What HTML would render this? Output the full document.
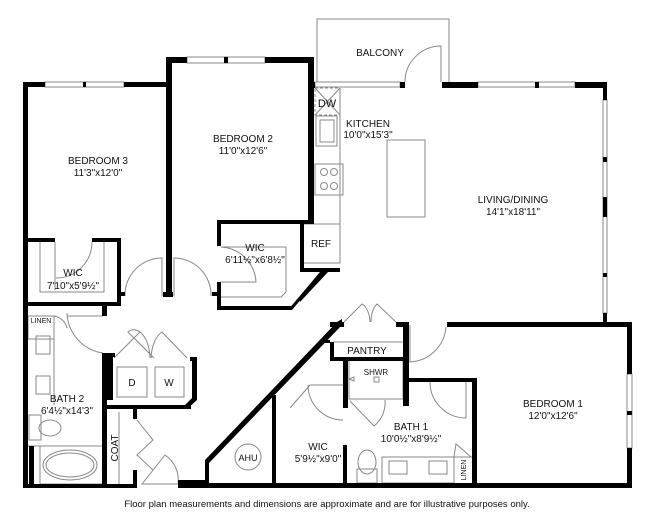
<!DOCTYPE html>
<html><head><style>
html,body{margin:0;padding:0;background:#fff;}
svg{display:block;}
text{font-family:"Liberation Sans",Arial,sans-serif;fill:#111;}
</style></head><body>
<svg width="650" height="522" viewBox="0 0 650 522" xmlns="http://www.w3.org/2000/svg">
<g fill="none" stroke="#888" stroke-width="1">
<!-- balcony -->
<polyline points="317,82 317,19 449,19 449,82"/>
<path d="M405,82 A36,36 0 0 1 441,46 L441,82"/>
<!-- windows -->
<rect x="45" y="82" width="79" height="5"/><rect x="187" y="57" width="78" height="6"/>
<rect x="315" y="82" width="85" height="5"/><rect x="478" y="82" width="97" height="5"/>
<rect x="603" y="100" width="4" height="213"/><rect x="627" y="374" width="5" height="74"/>
<!-- kitchen -->
<rect x="315" y="88" width="25" height="27" stroke-dasharray="3,2"/>
<line x1="315" y1="88" x2="340" y2="115"/><line x1="340" y1="88" x2="315" y2="115"/>
<rect x="316" y="116" width="21" height="30"/><rect x="320" y="120" width="14" height="22"/>
<rect x="315" y="164" width="28" height="31"/>
<circle cx="324" cy="172" r="3.5"/><circle cx="334" cy="172" r="3.5"/><circle cx="324" cy="186" r="3.5"/><circle cx="334" cy="186" r="3.5"/>
<line x1="340" y1="88" x2="340" y2="224"/>
<rect x="387" y="140" width="38" height="77"/>
<rect x="303" y="224" width="37" height="39"/>
<!-- WIC3 shelf -->
<polyline points="40,242 40,292 104,292 104,242"/><polyline points="55,242 55,290"/>
<path d="M92,242 A36,36 0 0 1 56,278"/>
<!-- BR doors -->
<path d="M125,296 A37,37 0 0 1 162,258 L162,296"/>
<path d="M211,296 A37,37 0 0 0 174,258 L174,296"/>
<!-- WIC2 shelf -->
<polyline points="221,247 286,247 286,292 281,297 221,297"/>
<path d="M221,247 A37,37 0 0 1 256,282 L221,282"/>
<!-- bath2 -->
<rect x="28" y="316" width="26" height="23"/><path d="M54,316 A16,16 0 0 1 67,328"/>
<path d="M67,313 A42,42 0 0 0 103,353"/><line x1="67" y1="316" x2="103" y2="316"/>
<line x1="28" y1="339" x2="54" y2="339"/><line x1="54" y1="339" x2="54" y2="405"/>
<rect x="36" y="336" width="14" height="18"/><rect x="36" y="376" width="14" height="18"/>
<rect x="29" y="415" width="12" height="25"/><ellipse cx="50" cy="428" rx="11" ry="8"/>
<line x1="28" y1="446" x2="103" y2="446"/><rect x="40" y="446" width="63" height="38"/>
<ellipse cx="70" cy="465" rx="27" ry="15"/><ellipse cx="70" cy="465" rx="24" ry="12"/>
<!-- laundry -->
<path d="M114,358 L140,332 M154,358 L128,332 A16,30 0 0 1 150,358 M151,358 A16,30 0 0 1 162,332 L187,358"/>
<rect x="117" y="367" width="30" height="30"/><rect x="155" y="367" width="29" height="30"/>
<line x1="119" y1="412" x2="119" y2="484"/>
<path d="M137,420 L153,440 L137,455 L153,470 M142,484 L165,455 A30,30 0 0 1 178,484 Z"/>
<!-- AHU -->
<circle cx="248" cy="457" r="13"/>
<line x1="220" y1="447" x2="247" y2="418"/>
<!-- WIC1 -->
<polyline points="290,408 310,385 343,385 M290,408 L290,472 343,472"/>
<path d="M343,420 A35,35 0 0 1 308,385"/>
<!-- pantry -->
<path d="M344,322 L362,304 A12,20 0 0 1 370,322 M371,322 A12,20 0 0 1 377,304 L396,322"/>
<line x1="333" y1="342" x2="403" y2="342"/>
<!-- shower -->
<rect x="349" y="360" width="54" height="39"/><rect x="374" y="377" width="5" height="5"/>
<path d="M349,379 L354,377 L354,381 Z"/>
<path d="M350,401 L374,426 A30,30 0 0 0 385,400"/>
<!-- bath1 -->
<path d="M430,382 A36,36 0 0 0 466,418 L466,382"/>
<ellipse cx="367" cy="462" rx="9" ry="12"/><rect x="357" y="469" width="20" height="14"/>
<rect x="382" y="457" width="72" height="26"/><rect x="389" y="461" width="18" height="13"/><rect x="429" y="461" width="18" height="13"/>
<line x1="454" y1="457" x2="472" y2="457"/><path d="M454,457 L456,444 L471,457"/>
<!-- BR1 door -->
<path d="M410,325 L410,362 A38,38 0 0 0 446,327"/>
</g>
<g fill="#000">
<!-- BR3 -->
<rect x="23" y="82" width="22" height="5"/><rect x="124" y="82" width="47" height="5"/><rect x="83" y="82" width="3" height="5"/>
<rect x="23" y="82" width="5" height="406"/>
<!-- BR2 -->
<rect x="166" y="57" width="21" height="6"/><rect x="224" y="57" width="4" height="6"/><rect x="265" y="57" width="49" height="6"/>
<rect x="166" y="57" width="6" height="240"/><rect x="163" y="292" width="10" height="5"/>
<rect x="308" y="57" width="6" height="165"/>
<rect x="217" y="220" width="97" height="4"/><rect x="217" y="220" width="4" height="26"/><rect x="217" y="282" width="4" height="28"/>
<rect x="212" y="292" width="9" height="4"/>
<rect x="217" y="306" width="74" height="4"/>
<polygon points="288,310 292,310 324,272 320,272"/>
<rect x="300" y="220" width="4" height="52"/><rect x="300" y="268" width="40" height="4"/>
<polygon points="300,296 300,302 328,272 322,272"/>
<!-- WIC3 -->
<rect x="23" y="238" width="32" height="4"/><rect x="92" y="238" width="29" height="4"/>
<rect x="117" y="238" width="4" height="64"/><rect x="117" y="292" width="8" height="4"/>
<rect x="23" y="302" width="98" height="4"/><rect x="102" y="302" width="5" height="14"/>
<!-- bath2 -->
<rect x="102" y="353" width="5" height="135"/><rect x="23" y="484" width="113" height="4"/>
<rect x="29" y="446" width="5" height="38"/>
<rect x="178" y="480" width="30" height="8"/>
<!-- laundry -->
<polygon points="107,353 113,353 113,400 107,400"/>
<rect x="107" y="405" width="84" height="4"/><polygon points="187,409 197,400 197,358 192,358 192,398 185,405"/>
<rect x="190" y="357" width="7" height="4"/><rect x="107" y="353" width="8" height="4"/>
<rect x="133" y="409" width="4" height="10"/><rect x="133" y="470" width="4" height="18"/>
<!-- kitchen/living -->
<rect x="313" y="82" width="2" height="6"/><rect x="400" y="82" width="5" height="6"/>
<rect x="442" y="82" width="36" height="6"/><rect x="535" y="82" width="4" height="6"/><rect x="575" y="82" width="32" height="6"/>
<rect x="603" y="82" width="4" height="18"/><rect x="603" y="157" width="4" height="5"/><rect x="603" y="197" width="4" height="20"/>
<rect x="603" y="273" width="4" height="4"/><rect x="603" y="313" width="4" height="14"/>
<!-- BR1 -->
<rect x="447" y="322" width="185" height="5"/><rect x="627" y="322" width="5" height="52"/><rect x="627" y="411" width="5" height="4"/><rect x="627" y="448" width="5" height="40"/>
<rect x="205" y="483" width="427" height="5"/>
<rect x="472" y="378" width="5" height="110"/><rect x="405" y="378" width="72" height="4"/>
<rect x="403" y="322" width="6" height="84"/><rect x="396" y="322" width="13" height="5"/>
<!-- diagonal -->
<polygon points="205,460 205,488 209,488 209,463 342,325 342,319 337,322"/>
<rect x="330" y="342" width="4" height="17"/><rect x="330" y="357" width="79" height="4"/>
<rect x="330" y="322" width="14" height="5"/>
<polygon points="325,340 330,340 330,343 322,343"/>
<rect x="343" y="360" width="5" height="48"/><rect x="343" y="445" width="4" height="43"/>
<rect x="272" y="395" width="4" height="93"/>
</g>
<g font-size="10" text-anchor="middle">
<text x="380" y="56">BALCONY</text>
<text x="327" y="107" font-size="11">DW</text>
<text x="368" y="127">KITCHEN</text><text x="368" y="138">10'0"x15'3"</text>
<text x="98" y="164">BEDROOM 3</text><text x="98" y="176">11'3"x12'0"</text>
<text x="243" y="142">BEDROOM 2</text><text x="243" y="154">11'0"x12'6"</text>
<text x="513" y="203">LIVING/DINING</text><text x="513" y="215">14'1"x18'11"</text>
<text x="321" y="247">REF</text>
<text x="255" y="251">WIC</text><text x="255" y="263">6'11½"x6'8½"</text>
<text x="73" y="276">WIC</text><text x="73" y="289">7'10"x5'9½"</text>
<text x="41" y="323" font-size="7">LINEN</text>
<text x="132" y="386">D</text><text x="169" y="386">W</text>
<text x="367" y="354">PANTRY</text>
<text x="376" y="375" font-size="8">SHWR</text>
<text x="67" y="402">BATH 2</text><text x="67" y="414">6'4½"x14'3"</text>
<text x="553" y="407">BEDROOM 1</text><text x="553" y="419">12'0"x12'6"</text>
<text x="411" y="430">BATH 1</text><text x="411" y="442">10'0½"x8'9½"</text>
<text x="318" y="450">WIC</text><text x="318" y="462">5'9½"x9'0"</text>
<text x="248" y="461" font-size="9">AHU</text>
<text x="0" y="0" transform="translate(118,448) rotate(-90)">COAT</text>
<text x="0" y="0" font-size="7" transform="translate(466,470) rotate(-90)">LINEN</text>
<text x="327" y="507" font-size="9.5">Floor plan measurements and dimensions are approximate and are for illustrative purposes only.</text>
</g>
</svg>
</body></html>
